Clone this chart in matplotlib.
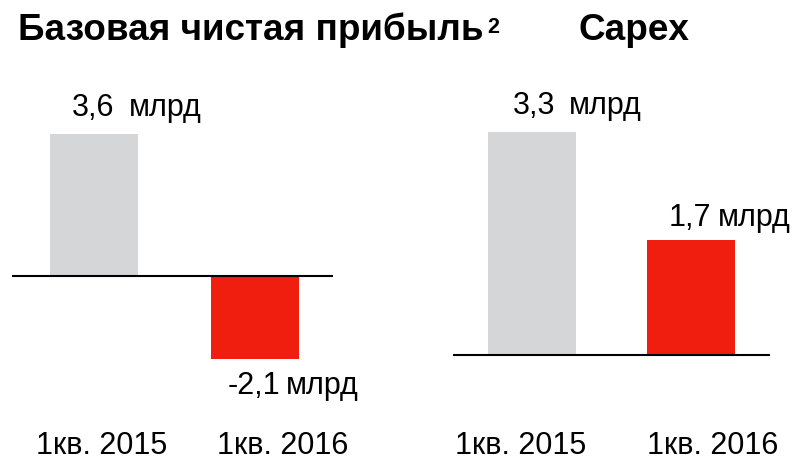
import matplotlib
matplotlib.use('Agg')
import matplotlib.pyplot as plt

plt.rcParams['font.family'] = ['Liberation Sans', 'DejaVu Sans']

# data
categories = ['1кв. 2015', '1кв. 2016']
profit_values = [3.6, -2.1]
capex_values = [3.3, 1.7]
profit_labels = ['3,6', '-2,1']
capex_labels = ['3,3', '1,7']
unit = 'млрд'
bar_colors = ['#D5D6D8', '#F01E0E']

W, H = 801, 461
fig = plt.figure(figsize=(W / 100, H / 100), dpi=100)


def px_axes(x0, x1):
    return fig.add_axes([x0 / W, 0, (x1 - x0) / W, 1])


def draw_panel(ax, values, labels, width, xlim, ylim, num_off, unit_off):
    x = list(range(len(values)))
    ax.bar(x, values, width=width, color=bar_colors, zorder=2)
    ax.axhline(0, color='black', lw=1.5, zorder=3)
    ax.set_xlim(*xlim)
    ax.set_ylim(*ylim)
    ax.axis('off')
    for i, v in enumerate(values):
        left = x[i] - width / 2
        ax.annotate(labels[i], xy=(left, v), textcoords='offset pixels',
                    xytext=num_off[i], ha='left', va='baseline', fontsize=22)
        ax.annotate(unit, xy=(left, v), textcoords='offset pixels',
                    xytext=unit_off[i], ha='left', va='baseline', fontsize=22)


# left panel: Базовая чистая прибыль
ax1 = px_axes(12, 333)
draw_panel(ax1, profit_values, profit_labels, 0.5466,
           (-0.5093, 1.4845), (-185 / 39.5, 276 / 39.5),
           [(22, 18), (17, -35)], [(79, 18), (75, -35)])

# right panel: Capex
ax2 = px_axes(453, 770)
draw_panel(ax2, capex_values, capex_labels, 0.553,
           (-0.4969, 1.4969), (-106 / 67.7, 355 / 67.7),
           [(25, 18), (22, 14)], [(81, 18), (71, 14)])

# titles
fig.text(18 / W, 1 - 40 / H, 'Базовая чистая прибыль', fontsize=26.6,
         fontweight='bold', ha='left', va='baseline')
fig.text(487 / W, 1 - 33 / H, '2', fontsize=15.5,
         fontweight='bold', ha='left', va='baseline')
fig.text(578 / W, 1 - 40 / H, 'Capex', fontsize=26.6,
         fontweight='bold', ha='left', va='baseline')

# category labels
for xpos, lab in zip([36, 217, 455, 647], categories * 2):
    fig.text(xpos / W, 1 - 454 / H, lab, fontsize=22, ha='left', va='baseline')

fig.savefig('out.png', dpi=100)
